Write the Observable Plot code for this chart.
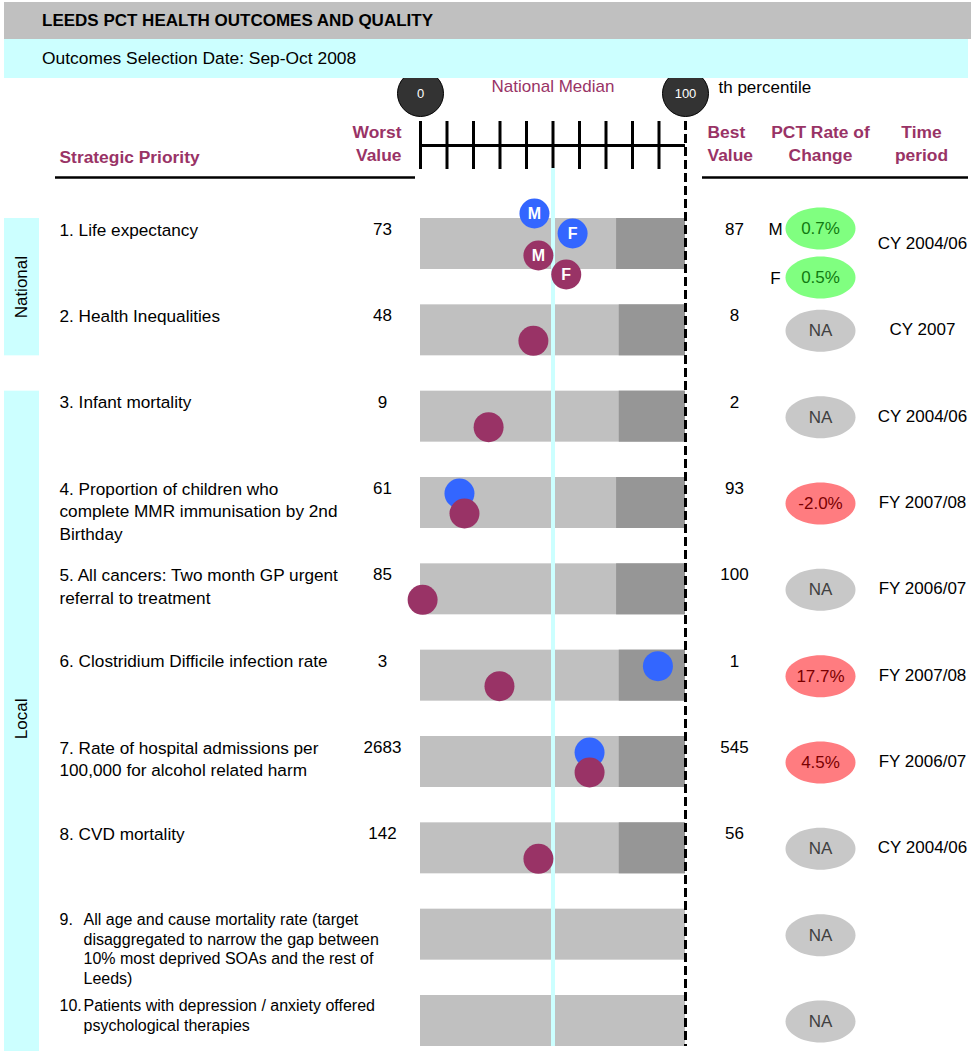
<!DOCTYPE html>
<html>
<head>
<meta charset="utf-8">
<script src="https://cdn.jsdelivr.net/npm/d3@7"></script>
<script src="https://cdn.jsdelivr.net/npm/@observablehq/plot@0.6"></script>
<style>
  html, body { margin: 0; padding: 0; background: #fff; overflow: hidden; }
  body { font-family: "Liberation Sans", Arial, sans-serif; width: 971px; }
  #head { position: relative; height: 78px; }
  #title { position: absolute; left: 4px; top: 2px; width: 967px; height: 37px; background: #c0c0c0;
           font-weight: bold; font-size: 17px; line-height: 37px; padding-left: 38px; box-sizing: border-box; color: #000; }
  #subtitle { position: absolute; left: 4px; top: 39px; width: 964px; height: 39px; background: #ccffff;
           font-size: 17.4px; line-height: 39px; padding-left: 38px; box-sizing: border-box; color: #000; }
  #chart svg { display: block; }
</style>
</head>
<body>
<div id="head">
  <div id="title">LEEDS PCT HEALTH OUTCOMES AND QUALITY</div>
  <div id="subtitle">Outcomes Selection Date: Sep-Oct 2008</div>
</div>
<div id="chart"></div>
<script>
// ---------------- DATA ----------------
const rowIds = [1, 2, 3, 4, 5, 6, 7, 8, 9, 10];
const priorityNumbers = ["1.", "2.", "3.", "4.", "5.", "6.", "7.", "8.", "9.", "10."];
const priorityTexts = [
  "Life expectancy",
  "Health Inequalities",
  "Infant mortality",
  "Proportion of children who\ncomplete MMR immunisation by 2nd\nBirthday",
  "All cancers: Two month GP urgent\nreferral to treatment",
  "Clostridium Difficile infection rate",
  "Rate of hospital admissions per\n100,000 for alcohol related harm",
  "CVD mortality",
  "All age and cause mortality rate (target\ndisaggregated to narrow the gap between\n10% most deprived SOAs and the rest of\nLeeds)",
  "Patients with depression / anxiety offered\npsychological therapies"
];
const hangingIndentRows = [9, 10];
const sections = ["National", "Local"];
const sectionFirstRow = [1, 3];
const sectionLastRow = [2, 10];
const worstValues = ["73", "48", "9", "61", "85", "3", "2683", "142", "", ""];
const bestValues = ["87", "8", "2", "93", "100", "1", "545", "56", "", ""];
const timePeriods = ["CY 2004/06", "CY 2007", "CY 2004/06", "FY 2007/08", "FY 2006/07", "FY 2007/08", "FY 2006/07", "CY 2004/06", "", ""];
// start (percentile) of the darker top band of each bar
const topBandStart = [74, 75, 75, 74, 74, 75, 75, 75, null, null];
const percentileTicks = [0, 10, 20, 30, 40, 50, 60, 70, 80, 90];
const percentileEnds = [0, 100];
const nationalMedian = 50;

// Leeds position (percentile): current (maroon) and previous (blue)
const currentRow = [1, 1, 2, 3, 4, 5, 6, 7, 8];
const currentSex = ["M", "F", "", "", "", "", "", "", ""];
const currentPct = [44.5, 55, 42.6, 25.7, 16.6, 0.8, 29.8, 63.8, 44.5];
const previousRow = [1, 1, 4, 6, 7];
const previousSex = ["M", "F", "", "", ""];
const previousPct = [43, 57.4, 14.7, 89.6, 63.8];

// PCT rate of change
const rateRow = [1, 1, 2, 3, 4, 5, 6, 7, 8, 9, 10];
const rateSex = ["M", "F", "", "", "", "", "", "", "", "", ""];
const rateLabel = ["0.7%", "0.5%", "NA", "NA", "-2.0%", "NA", "17.7%", "4.5%", "NA", "NA", "NA"];
const rateStatus = ["good", "good", "na", "na", "bad", "na", "bad", "bad", "na", "na", "na"];

// ---------------- LAYOUT / STYLE ----------------
const HEAD = 78;          // html header height
const W = 971, H = 973;   // svg size
const ROWPX = 86.333;     // row pitch (px)
const BARPX = 51;         // bar height (px)
const MAGENTA = "#993366";
const BLUE = "#3366ff";
const LIGHT = "#c0c0c0", DARK = "#969696", CYAN = "#ccffff";
const RATE_FILL = {good: "#80ff80", bad: "#ff7c80", na: "#c8c8c8"};
const RATE_TEXT = {good: "#117a11", bad: "#7a0000", na: "#404040"};
const DOT_DY = {prev: {"": 16, M: -5, F: 15}, curr: {"": 36, M: 37, F: 56}};
const RATE_DY = {"": 26, M: 10, F: 59};

const xOpts = {domain: [0, 100], range: [420, 685]};
const yOpts = {domain: [1, 10], range: [218 - HEAD, 218 - HEAD + 9 * ROWPX]};
const xs = Plot.scale({x: xOpts});
const ys = Plot.scale({y: yOpts});
const X = (px) => xs.invert(px);            // page px -> x units
const Y = (py) => ys.invert(py - HEAD);     // page py -> y units (rows)
const off = (px) => px / ROWPX;             // px offset -> row units
const BW = off(BARPX);

// ---------------- TABLES ----------------
const rows = rowIds.map((r, i) => ({
  row: r, num: priorityNumbers[i], text: priorityTexts[i],
  worst: worstValues[i], best: bestValues[i], time: timePeriods[i], q: topBandStart[i]
}));
const points = [
  ...previousRow.map((r, i) => ({row: r, sex: previousSex[i], pct: previousPct[i], series: "prev"})),
  ...currentRow.map((r, i) => ({row: r, sex: currentSex[i], pct: currentPct[i], series: "curr"}))
];
const rates = rateRow.map((r, i) => ({row: r, sex: rateSex[i], label: rateLabel[i], status: rateStatus[i]}));
const sectionData = sections.map((s, i) => ({name: s, y1: sectionFirstRow[i], y2: sectionLastRow[i] + BW}));
sectionData[1].y2 = Y(1060);

const normalRows = rows.filter(d => !hangingIndentRows.includes(d.row));
const hangRows = rows.filter(d => hangingIndentRows.includes(d.row));

// ellipse symbol
const ellipse = {
  draw(ctx, size) {
    const r = Math.sqrt(size / Math.PI);
    const rx = r * 35 / 21, ry = r, k = 0.5522848, kx = k * rx, ky = k * ry;
    ctx.moveTo(rx, 0);
    ctx.bezierCurveTo(rx, ky, kx, ry, 0, ry);
    ctx.bezierCurveTo(-kx, ry, -rx, ky, -rx, 0);
    ctx.bezierCurveTo(-rx, -ky, -kx, -ry, 0, -ry);
    ctx.bezierCurveTo(kx, -ry, rx, -ky, rx, 0);
    ctx.closePath();
  }
};

const dotY = d => d.row + off(DOT_DY[d.series][d.sex]);
const rateY = d => d.row + off(RATE_DY[d.sex]);
const headerFont = {fontWeight: "bold", fill: MAGENTA, fontSize: 17.4, lineHeight: 1.3};

const chart = Plot.plot({
  width: W, height: H, margin: 0,
  x: {...xOpts, axis: null},
  y: {...yOpts, axis: null},
  style: {fontFamily: "'Liberation Sans', Arial, sans-serif", fontSize: "17px", background: "white", overflow: "visible", color: "#000"},
  marks: [
    // section side panels
    Plot.rect(sectionData, {x1: X(4), x2: X(39), y1: "y1", y2: "y2", fill: CYAN}),
    Plot.text(sectionData, {x: X(21), y: d => (d.y1 + Math.min(d.y2, 10 + BW)) / 2, text: "name", rotate: -90, fontSize: 17}),

    // column headers
    Plot.text(["Strategic Priority"], {x: X(59), y: Y(155), text: d => d, textAnchor: "start", ...headerFont}),
    Plot.text(["Worst\nValue"], {x: X(401), y: Y(142), text: d => d, textAnchor: "end", ...headerFont}),
    Plot.text(["Best\nValue"], {x: X(707), y: Y(142), text: d => d, textAnchor: "start", ...headerFont}),
    Plot.text(["PCT Rate of\nChange"], {x: X(820), y: Y(142), text: d => d, textAnchor: "middle", ...headerFont}),
    Plot.text(["Time\nperiod"], {x: X(921), y: Y(142), text: d => d, textAnchor: "middle", ...headerFont}),
    Plot.ruleY([Y(177)], {x1: X(55), x2: X(415), strokeWidth: 2.5}),
    Plot.ruleY([Y(177)], {x1: X(702), x2: X(968), strokeWidth: 2.5}),

    // percentile ruler
    Plot.ruleX(percentileTicks, {y1: Y(121), y2: Y(169), strokeWidth: 3}),
    Plot.ruleY([Y(145)], {x1: 0, x2: 100, strokeWidth: 3}),
    Plot.dot(percentileEnds, {x: d => d, y: Y(93), r: 23, fill: "#333333", stroke: "#000", strokeWidth: 1}),
    Plot.text(percentileEnds, {x: d => d, y: Y(93), text: d => String(d), fill: "white", fontSize: 13}),
    Plot.text(["National Median"], {x: nationalMedian, y: Y(86), text: d => d, fill: MAGENTA, fontSize: 17}),
    Plot.text(["th percentile"], {x: 100, dx: 33, y: Y(87), text: d => d, textAnchor: "start", fontSize: 17}),

    // bars
    Plot.rect(rows, {x1: 0, x2: 100, y1: "row", y2: d => d.row + BW, fill: LIGHT}),
    Plot.rect(rows.filter(d => d.q != null), {x1: "q", x2: 100, y1: "row", y2: d => d.row + BW, fill: DARK}),

    // national median line & 100th percentile dashed line
    Plot.ruleX([nationalMedian], {y1: Y(168), y2: Y(1046), stroke: CYAN, strokeWidth: 4}),
    Plot.ruleX([100], {y1: Y(121), y2: Y(1046), strokeWidth: 3, strokeDasharray: "9,4"}),

    // Leeds positions
    Plot.dot(points, {x: "pct", y: dotY, r: 15, fill: d => d.series === "prev" ? BLUE : MAGENTA}),
    Plot.text(points.filter(d => d.sex), {x: "pct", y: dotY, text: "sex", fill: "white", fontWeight: "bold", fontSize: 16}),

    // row labels
    Plot.text(normalRows, {x: X(59), y: "row", dy: 1, text: d => `${d.num} ${d.text}`, textAnchor: "start", lineAnchor: "top", lineHeight: 1.32, fontSize: 17.2}),
    Plot.text(hangRows, {x: X(59), y: "row", dy: 4, text: "num", textAnchor: "start", lineAnchor: "top", fontSize: 16}),
    Plot.text(hangRows, {x: X(83), y: "row", dy: 2, text: "text", textAnchor: "start", lineAnchor: "top", lineHeight: 1.22, fontSize: 16}),

    // worst / best values
    Plot.text(rows, {x: X(382), y: "row", dy: 11, text: "worst", textAnchor: "middle", fontSize: 17}),
    Plot.text(rows, {x: X(734), y: "row", dy: 11, text: "best", textAnchor: "middle", fontSize: 17}),

    // rate of change
    Plot.dot(rates, {x: X(820), y: rateY, r: 21, symbol: ellipse, fill: d => RATE_FILL[d.status]}),
    Plot.text(rates, {x: X(820), y: rateY, text: "label", fill: d => RATE_TEXT[d.status], fontSize: 17}),
    Plot.text(rates.filter(d => d.sex), {x: X(775), y: d => d.row + off(RATE_DY[d.sex] + 1), text: "sex", fontSize: 17}),

    // time period
    Plot.text(rows, {x: X(922), y: "row", dy: 25, text: "time", textAnchor: "middle", fontSize: 17})
  ]
});
document.getElementById("chart").appendChild(chart);
</script>
</body>
</html>
